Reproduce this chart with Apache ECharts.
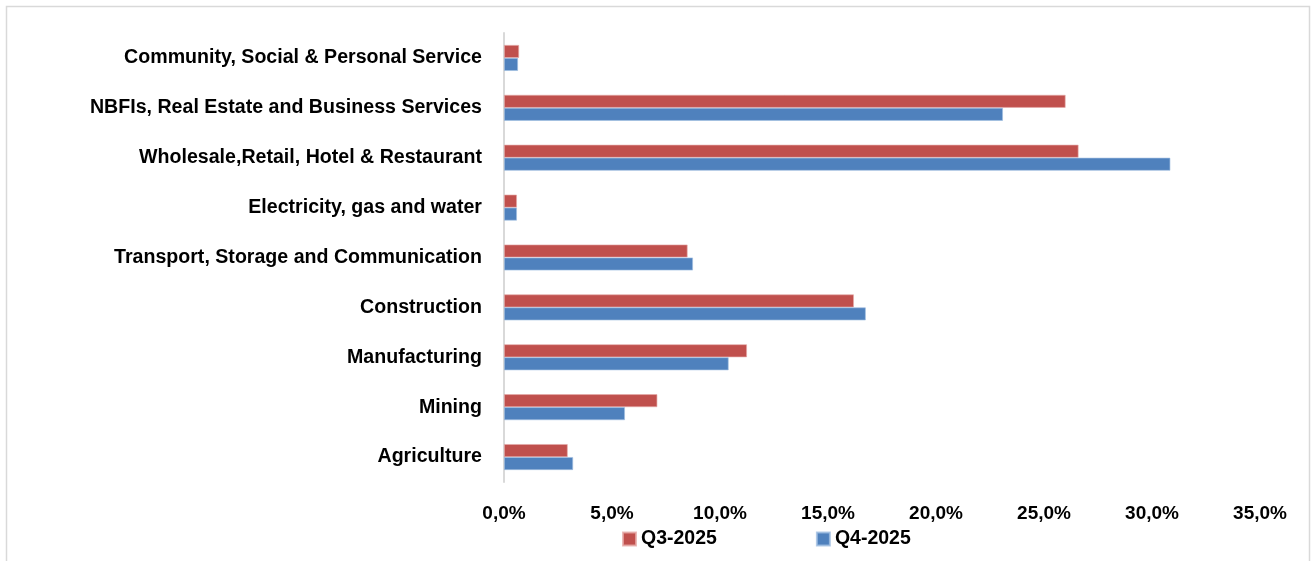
<!DOCTYPE html>
<html>
<head>
<meta charset="utf-8">
<script src="https://cdn.jsdelivr.net/npm/echarts@6/dist/echarts.min.js"></script>
<style>
  html, body { margin: 0; padding: 0; background: #fff; }
  #chart { width: 1312px; height: 561px; }
</style>
</head>
<body>
<div id="chart"></div>
<script>
// Sector shares of the two quarters (percent)
const categories = [
  'Agriculture',
  'Mining',
  'Manufacturing',
  'Construction',
  'Transport, Storage and Communication',
  'Electricity, gas and water',
  'Wholesale,Retail, Hotel & Restaurant',
  'NBFIs, Real Estate and Business Services',
  'Community, Social & Personal Service'
];
const q3_2025 = [2.95, 7.1, 11.25, 16.2, 8.5, 0.6, 26.6, 26.0, 0.7];
const q4_2025 = [3.2, 5.6, 10.4, 16.75, 8.75, 0.6, 30.85, 23.1, 0.65];
const seriesNames = ['Q3-2025', 'Q4-2025'];

const FONT = '"Liberation Sans", Arial, sans-serif';

const chart = echarts.init(document.getElementById('chart'), null, { renderer: 'canvas' });

chart.setOption({
  animation: false,
  backgroundColor: '#ffffff',
  graphic: [{
    type: 'rect',
    shape: { x: 6.5, y: 6.5, width: 1303, height: 600 },
    style: { fill: 'none', stroke: '#d9d9d9', lineWidth: 1.5 },
    silent: true
  }],
  grid: { left: 504, right: 52, top: 33, bottom: 79, containLabel: false },
  legend: {
    data: seriesNames,
    left: 617,
    top: 524,
    itemWidth: 13,
    itemHeight: 13,
    itemGap: 99,
    icon: 'rect',
    textStyle: { fontFamily: FONT, fontWeight: 'bold', fontSize: 19.5, color: '#000' }
  },
  xAxis: {
    type: 'value',
    min: 0,
    max: 35,
    interval: 5,
    axisLine: { show: false },
    axisTick: { show: false },
    splitLine: { show: false },
    axisLabel: {
      margin: 22,
      fontFamily: FONT,
      fontWeight: 'bold',
      fontSize: 19,
      color: '#000',
      formatter: v => v.toFixed(1).replace('.', ',') + '%'
    }
  },
  yAxis: {
    type: 'category',
    data: categories,
    axisLine: { show: true, lineStyle: { color: '#d9d9d9', width: 2 } },
    axisTick: { show: false },
    splitLine: { show: false },
    axisLabel: {
      margin: 22,
      fontFamily: FONT,
      fontWeight: 'bold',
      fontSize: 19.6,
      color: '#000'
    }
  },
  series: [
    {
      name: seriesNames[0],
      type: 'bar',
      data: q3_2025,
      barWidth: 13,
      barGap: '0%',
      itemStyle: { color: '#C0504D', borderColor: 'rgba(230,170,168,0.8)', borderWidth: 0.8 }
    },
    {
      name: seriesNames[1],
      type: 'bar',
      data: q4_2025,
      barWidth: 13,
      barGap: '0%',
      itemStyle: { color: '#4F81BD', borderColor: 'rgba(160,190,225,0.8)', borderWidth: 0.8 }
    }
  ]
});
</script>
</body>
</html>
